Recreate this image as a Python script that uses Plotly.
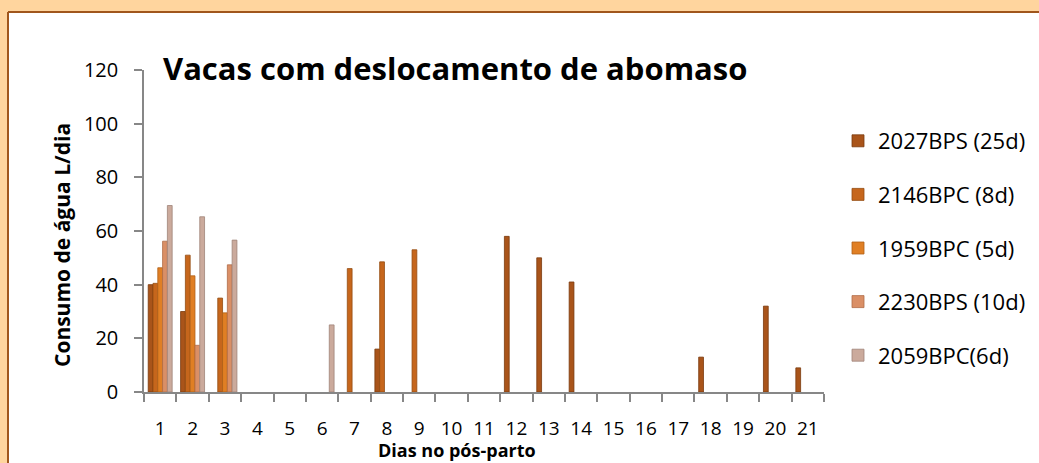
import plotly.graph_objects as go

days = [str(d) for d in range(1, 22)]
series_names = ["2027BPS (25d)", "2146BPC (8d)", "1959BPC (5d)", "2230BPS (10d)", "2059BPC(6d)"]

s_2027BPS = [40, 30, None, None, None, None, None, 16, None, None, None, 58, 50, 41, None, None, None, 13, None, 32, 9]
s_2146BPC = [40.5, 51, 35, None, None, None, 46, 48.5, 53, None, None, None, None, None, None, None, None, None, None, None, None]
s_1959BPC = [46.3, 43.3, 29.5, None, None, None, None, None, None, None, None, None, None, None, None, None, None, None, None, None, None]
s_2230BPS = [56.2, 17.4, 47.4, None, None, None, None, None, None, None, None, None, None, None, None, None, None, None, None, None, None]
s_2059BPC = [69.5, 65.3, 56.6, None, None, 25, None, None, None, None, None, None, None, None, None, None, None, None, None, None, None]

values = [s_2027BPS, s_2146BPC, s_1959BPC, s_2230BPS, s_2059BPC]
fill_colors = ["#A9541A", "#C6661C", "#E07F24", "#DA8F66", "#CBAA9C"]
edge_colors = ["#7A3A0E", "#944C12", "#B05F16", "#B06C48", "#A08478"]

W, H = 1039, 463
L, R, T, B = 144, 215, 70, 71
pw, ph = W - L - R, H - T - B

def px(x):
    return (x - L) / pw

def py(y):
    return (H - B - y) / ph

FONT = "Open Sans"

fig = go.Figure()
for i, (name, vals) in enumerate(zip(series_names, values)):
    fig.add_trace(go.Bar(
        x=days, y=vals, name=name,
        marker=dict(color=fill_colors[i], line=dict(color=edge_colors[i], width=0.8)),
        legendgroup=f"g{i}",
    ))

fig.update_layout(
    width=W, height=H,
    margin=dict(l=L, r=R, t=T, b=B, pad=0, autoexpand=False),
    paper_bgcolor="white", plot_bgcolor="white",
    barmode="group", bargap=0.26, bargroupgap=0,
    font=dict(family=FONT, color="black"),
    showlegend=True,
    legend=dict(x=px(838), xanchor="left", y=py(120), yanchor="top",
                font=dict(family=FONT, size=22, color="black"),
                tracegroupgap=22, bgcolor="rgba(0,0,0,0)"),
    xaxis=dict(type="category", categoryorder="array", categoryarray=days,
               tickson="boundaries", ticks="outside", ticklen=8, tickcolor="#878787", tickwidth=1.5,
               showline=True, linecolor="#878787", linewidth=1.5, showgrid=False, tickangle=0,
               tickfont=dict(family=FONT, size=19, color="black"), ticklabelstandoff=18),
    yaxis=dict(range=[0, 120], dtick=20, ticks="outside", ticklen=8, tickcolor="#878787", tickwidth=1.5,
               showline=True, linecolor="#878787", linewidth=1.5, showgrid=False, zeroline=False,
               tickfont=dict(family=FONT, size=20, color="black"), ticklabelstandoff=12),
    shapes=[
        dict(type="rect", xref="paper", yref="paper", x0=px(0), x1=px(W), y0=py(12), y1=py(0),
             fillcolor="#FFD59E", line=dict(width=0), layer="below"),
        dict(type="rect", xref="paper", yref="paper", x0=px(0), x1=px(8), y0=py(H), y1=py(0),
             fillcolor="#FFD59E", line=dict(width=0), layer="below"),
        dict(type="line", xref="paper", yref="paper", x0=px(8), x1=px(W), y0=py(12), y1=py(12),
             line=dict(color="#A0561C", width=2)),
        dict(type="line", xref="paper", yref="paper", x0=px(8), x1=px(8), y0=py(12), y1=py(H),
             line=dict(color="#A0561C", width=2)),
    ],
    annotations=[
        dict(text="<b>Vacas com deslocamento de abomaso</b>", xref="paper", yref="paper",
             x=px(455), y=py(68), xanchor="center", yanchor="middle", showarrow=False,
             font=dict(family=FONT, size=31, color="black")),
        dict(text="<b>Consumo de água L/dia</b>", xref="paper", yref="paper",
             x=px(62), y=py(245), xanchor="center", yanchor="middle", showarrow=False, textangle=-90,
             font=dict(family=FONT, size=21, color="black")),
        dict(text="<b>Dias no pós-parto</b>", xref="paper", yref="paper",
             x=px(457), y=py(450), xanchor="center", yanchor="middle", showarrow=False,
             font=dict(family=FONT, size=18, color="black")),
    ],
)

fig.write_html("out.html", config={"displayModeBar": False},
               post_script="document.body.style.margin='0';document.body.style.overflow='hidden';")
